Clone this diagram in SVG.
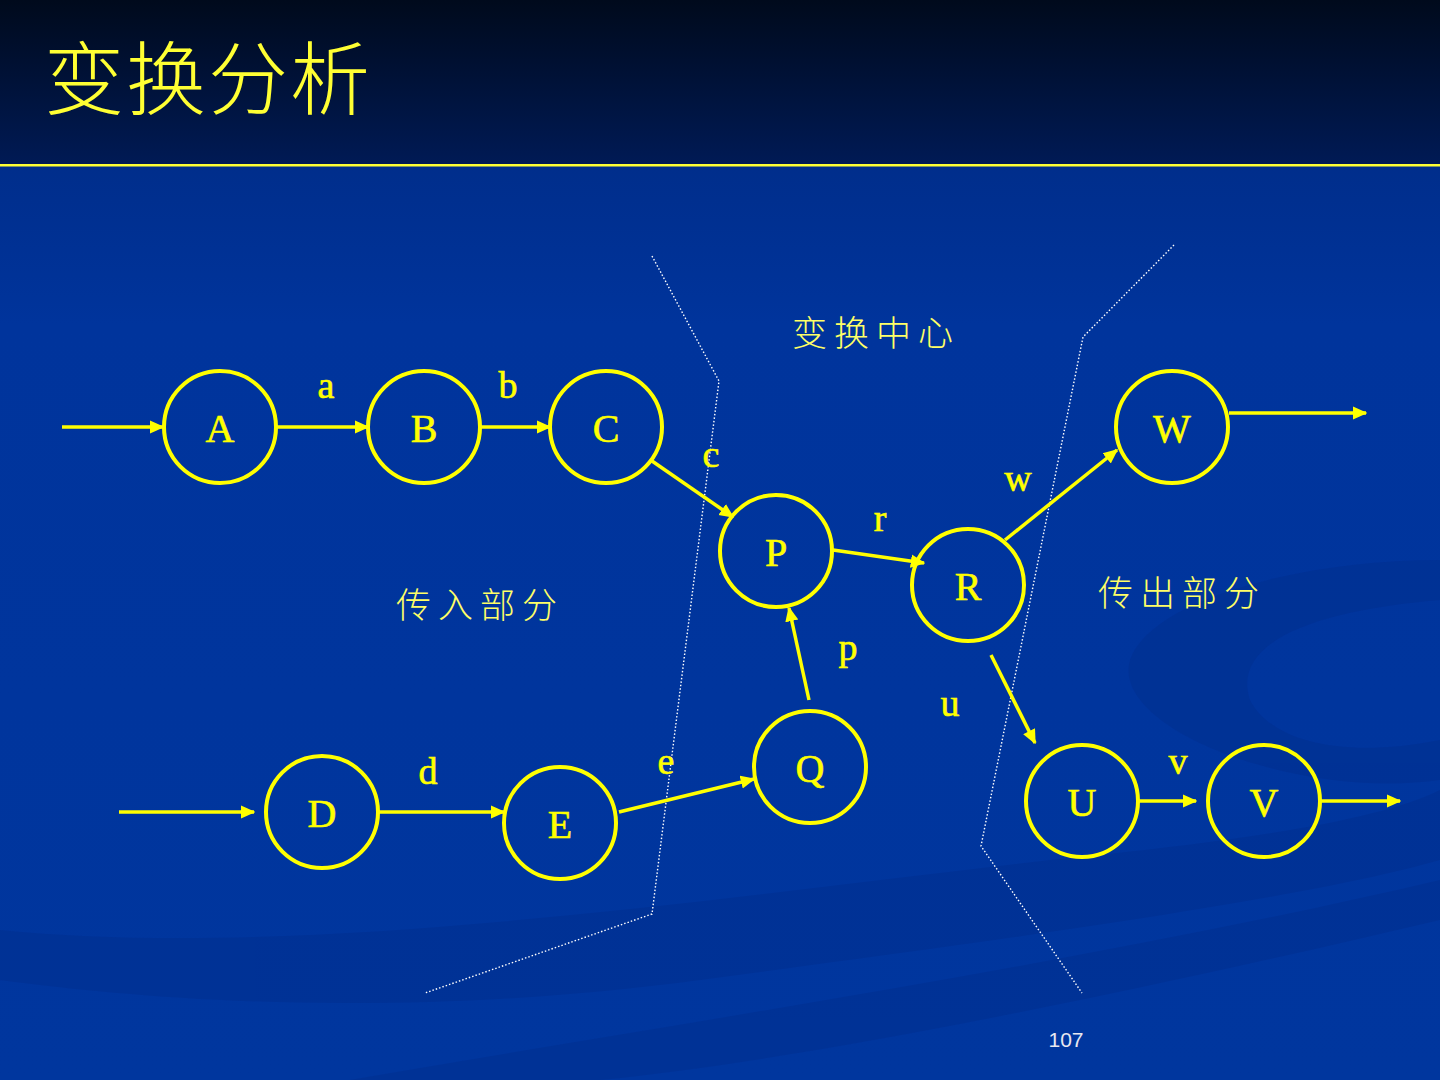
<svg xmlns="http://www.w3.org/2000/svg" width="1440" height="1080" viewBox="0 0 1440 1080">
<defs>
<linearGradient id="hdr" x1="0" y1="0" x2="0" y2="1">
<stop offset="0" stop-color="#000a1c"/>
<stop offset="1" stop-color="#001a55"/>
</linearGradient>
<linearGradient id="body" x1="0" y1="0" x2="0" y2="1">
<stop offset="0" stop-color="#00277a"/>
<stop offset="0.3" stop-color="#00349c"/>
<stop offset="1" stop-color="#00369e"/>
</linearGradient>
<marker id="ah" viewBox="0 0 10 10" refX="9" refY="5" markerWidth="4.2" markerHeight="4.2" orient="auto" markerUnits="strokeWidth">
<path d="M0,0.5 L10,5 L0,9.5 Z" fill="#ffff00"/>
</marker>
<style>
.node circle{fill:none;stroke:#ffff00;stroke-width:4}
.node text{font-family:"Liberation Serif","DejaVu Serif",serif;font-size:40px;fill:#ffff00;text-anchor:middle;stroke:#ffff00;stroke-width:0.6}
.conn line{stroke:#ffff00;stroke-width:3.5;marker-end:url(#ah)}
.lbl{font-family:"Liberation Serif","DejaVu Serif",serif;font-size:38px;fill:#ffff00;text-anchor:middle;stroke:#ffff00;stroke-width:0.6}
.cn{font-family:"Noto Sans CJK SC","Noto Sans CJK JP",sans-serif;font-size:35px;fill:#ffff66;letter-spacing:7px;font-weight:300}
.dot{fill:none;stroke:#ffffff;stroke-width:1.4;stroke-dasharray:1.5 2}
</style>
</defs>
<rect x="0" y="0" width="1440" height="1080" fill="url(#body)"/>
<g opacity="0.3" fill="#002a85">
<path d="M1130,660 C1150,600 1300,560 1440,560 L1440,600 C1320,610 1230,640 1250,700 C1270,740 1340,760 1440,740 L1440,780 C1300,800 1110,730 1130,660 Z"/>
<path d="M0,930 C300,960 700,900 1050,860 C1250,840 1380,820 1440,790 L1440,860 C1300,900 1000,940 700,980 C400,1020 150,1000 0,980 Z"/>
<path d="M350,1080 C700,1020 1100,960 1440,880 L1440,920 C1100,1000 800,1060 600,1080 Z"/>
</g>
<rect x="0" y="0" width="1440" height="164" fill="url(#hdr)"/>
<rect x="0" y="164" width="1440" height="2.5" fill="#ffff33"/>
<text x="44" y="108" font-family="Noto Sans CJK SC, Noto Sans CJK JP, sans-serif" font-size="80" font-weight="300" fill="#ffff33" letter-spacing="2">变换分析</text>

<g id="boundaries">
<polyline class="dot" points="652,256 719,381 652,914 425,993"/>
<polyline class="dot" points="1174,245 1083,337 981,846 1082,993"/>
</g>

<g id="regions">
<text class="cn" x="792" y="346">变换中心</text>
<text class="cn" x="396" y="618">传入部分</text>
<text class="cn" x="1098" y="606">传出部分</text>
</g>

<g id="connectors" class="conn">
<line x1="62" y1="427" x2="163" y2="427"/>
<line x1="277" y1="427" x2="368" y2="427"/>
<line x1="481" y1="427" x2="550" y2="427"/>
<line x1="652" y1="461" x2="733" y2="517"/>
<line x1="833" y1="550" x2="924" y2="563"/>
<line x1="1005" y1="540" x2="1117" y2="450"/>
<line x1="1229" y1="413" x2="1366" y2="413"/>
<line x1="809" y1="700" x2="789" y2="608"/>
<line x1="991" y1="655" x2="1035" y2="743"/>
<line x1="1139" y1="801" x2="1196" y2="801"/>
<line x1="1321" y1="801" x2="1400" y2="801"/>
<line x1="119" y1="812" x2="254" y2="812"/>
<line x1="379" y1="812" x2="504" y2="812"/>
<line x1="619" y1="812" x2="754" y2="779"/>
</g>

<g id="edge-labels">
<text class="lbl" x="326" y="398">a</text>
<text class="lbl" x="508" y="398">b</text>
<text class="lbl" x="711" y="467">c</text>
<text class="lbl" x="1018" y="491">w</text>
<text class="lbl" x="880" y="531">r</text>
<text class="lbl" x="848" y="660">p</text>
<text class="lbl" x="950" y="716">u</text>
<text class="lbl" x="1178" y="774">v</text>
<text class="lbl" x="428" y="784">d</text>
<text class="lbl" x="666" y="774">e</text>
</g>

<g id="node-A" class="node"><circle cx="220" cy="427" r="56"/><text x="220" y="442">A</text></g>
<g id="node-B" class="node"><circle cx="424" cy="427" r="56"/><text x="424" y="442">B</text></g>
<g id="node-C" class="node"><circle cx="606" cy="427" r="56"/><text x="606" y="442">C</text></g>
<g id="node-W" class="node"><circle cx="1172" cy="427" r="56"/><text x="1172" y="442">W</text></g>
<g id="node-P" class="node"><circle cx="776" cy="551" r="56"/><text x="776" y="566">P</text></g>
<g id="node-R" class="node"><circle cx="968" cy="585" r="56"/><text x="968" y="600">R</text></g>
<g id="node-Q" class="node"><circle cx="810" cy="767" r="56"/><text x="810" y="782">Q</text></g>
<g id="node-U" class="node"><circle cx="1082" cy="801" r="56"/><text x="1082" y="816">U</text></g>
<g id="node-V" class="node"><circle cx="1264" cy="801" r="56"/><text x="1264" y="816">V</text></g>
<g id="node-D" class="node"><circle cx="322" cy="812" r="56"/><text x="322" y="827">D</text></g>
<g id="node-E" class="node"><circle cx="560" cy="823" r="56"/><text x="560" y="838">E</text></g>

<text x="1066" y="1047" font-family="Liberation Sans, Arial, sans-serif" font-size="21" fill="#e8e8f0" text-anchor="middle">107</text>
</svg>
